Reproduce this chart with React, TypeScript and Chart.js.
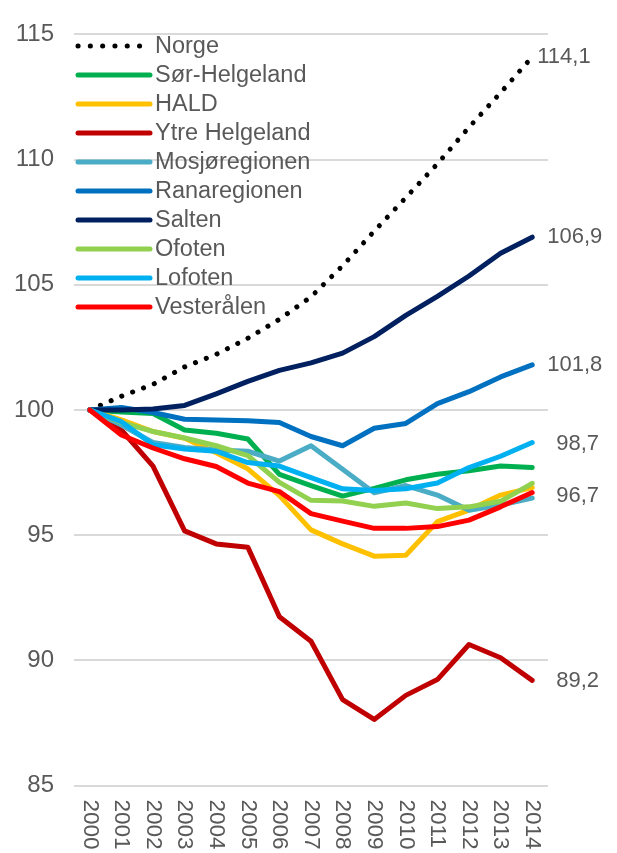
import React, { useEffect, useRef } from "react";
import { Chart, registerables } from "chart.js";

Chart.register(...registerables);

const years = ["2000","2001","2002","2003","2004","2005","2006","2007","2008","2009","2010","2011","2012","2013","2014"];

const norge = [100, 100.55, 101.02, 101.72, 102.22, 102.86, 103.62, 104.52, 105.76, 107.14, 108.48, 109.83, 111.29, 112.67, 114.1];
const sorHelgeland = [100, 99.92, 99.86, 99.2, 99.07, 98.84, 97.43, 96.98, 96.56, 96.87, 97.21, 97.43, 97.57, 97.76, 97.7];
const hald = [100, 99.6, 99.14, 98.87, 98.29, 97.65, 96.58, 95.21, 94.65, 94.16, 94.2, 95.54, 96.0, 96.6, 96.9];
const ytreHelgeland = [100, 99.2, 97.76, 95.17, 94.65, 94.52, 91.74, 90.76, 88.43, 87.64, 88.6, 89.23, 90.63, 90.1, 89.2];
const mosjoregionen = [100, 99.4, 98.7, 98.5, 98.4, 98.35, 97.96, 98.57, 97.63, 96.69, 96.98, 96.6, 95.99, 96.2, 96.48];
const ranaregionen = [100, 100.1, 99.9, 99.63, 99.6, 99.57, 99.5, 98.94, 98.57, 99.27, 99.46, 100.25, 100.73, 101.32, 101.8];
const salten = [100, 100.0, 100.04, 100.18, 100.64, 101.14, 101.58, 101.88, 102.27, 102.93, 103.78, 104.54, 105.35, 106.26, 106.9];
const ofoten = [100, 99.5, 99.14, 98.88, 98.57, 98.18, 97.11, 96.39, 96.36, 96.15, 96.28, 96.06, 96.13, 96.35, 97.07];
const lofoten = [100, 99.53, 98.61, 98.44, 98.35, 97.9, 97.76, 97.3, 96.85, 96.78, 96.85, 97.08, 97.7, 98.15, 98.7];
const vesteralen = [100, 99.0, 98.48, 98.05, 97.74, 97.08, 96.74, 95.86, 95.56, 95.27, 95.27, 95.34, 95.6, 96.13, 96.7];

const seriesNames = ["Norge","Sør-Helgeland","HALD","Ytre Helgeland","Mosjøregionen","Ranaregionen","Salten","Ofoten","Lofoten","Vesterålen"];
const seriesValues = [norge, sorHelgeland, hald, ytreHelgeland, mosjoregionen, ranaregionen, salten, ofoten, lofoten, vesteralen];
const seriesColors = ["#000000","#00B050","#FFC000","#C00000","#4BACC6","#0070C0","#002060","#92D050","#00B0F0","#FF0000"];
// series that carry an end label
const labelledSeries = ["Norge","Salten","Ranaregionen","Lofoten","Vesterålen","Ytre Helgeland"];

const FONT = "'Liberation Sans', Arial, sans-serif";
const TEXT = "#595959";

const endLabelOffsets: Record<string, [number, number]> = {
  "Norge": [5, 0],
  "Salten": [15, 0],
  "Ranaregionen": [15, 0],
  "Lofoten": [24, 1],
  "Vesterålen": [24, 3],
  "Ytre Helgeland": [24, 1],
};

const fmt = (v: number) => v.toFixed(1).replace(".", ",");

const overlayPlugin = {
  id: "overlay",
  afterDraw(chart: any) {
    const ctx = chart.ctx;
    const area = chart.chartArea;
    const xs = chart.scales.x;
    // x tick labels rotated clockwise
    ctx.save();
    ctx.fillStyle = TEXT;
    ctx.font = `22.5px ${FONT}`;
    years.forEach((y, i) => {
      const x = xs.getPixelForTick(i);
      ctx.save();
      ctx.translate(x, area.bottom + 14);
      ctx.rotate(Math.PI / 2);
      ctx.textAlign = "left";
      ctx.textBaseline = "middle";
      ctx.fillText(y, 0, 0);
      ctx.restore();
    });
    ctx.restore();

    // end labels
    ctx.save();
    ctx.fillStyle = TEXT;
    ctx.font = `22px ${FONT}`;
    ctx.textAlign = "left";
    ctx.textBaseline = "middle";
    chart.data.datasets.forEach((ds: any, di: number) => {
      if (!labelledSeries.includes(ds.label)) return;
      const meta = chart.getDatasetMeta(di);
      const pt = meta.data[meta.data.length - 1];
      const off = endLabelOffsets[ds.label] || [10, 0];
      ctx.fillText(fmt(ds.data[ds.data.length - 1]), pt.x + off[0], pt.y + off[1]);
    });
    ctx.restore();

    // legend
    ctx.save();
    const lx0 = 78, lx1 = 150, tx = 155, ty0 = 46, step = 29;
    chart.data.datasets.forEach((ds: any, i: number) => {
      const y = ty0 + i * step;
      ctx.save();
      ctx.strokeStyle = ds.borderColor;
      ctx.lineWidth = 5;
      ctx.lineCap = "round";
      const dotted = ds.borderDash && ds.borderDash.length;
      if (dotted) ctx.setLineDash([0.1, 12.2]);
      ctx.beginPath();
      ctx.moveTo(lx0, y);
      ctx.lineTo(dotted ? lx0 + 62 : lx1, y);
      ctx.stroke();
      ctx.restore();
      ctx.fillStyle = TEXT;
      ctx.font = `23.5px ${FONT}`;
      ctx.textAlign = "left";
      ctx.textBaseline = "middle";
      ctx.fillText(ds.label, tx, y + 1);
    });
    ctx.restore();
  },
};

export default function App() {
  const ref = useRef<HTMLCanvasElement>(null);
  useEffect(() => {
    if (!ref.current) return;
    const n = seriesNames.length;
    const chart = new Chart(ref.current, {
      type: "line",
      data: {
        labels: years,
        datasets: seriesNames.map((name, i) => ({
          label: name,
          data: seriesValues[i],
          borderColor: seriesColors[i],
          backgroundColor: seriesColors[i],
          borderWidth: 5,
          borderDash: name === "Norge" ? [0.1, 11.5] : [],
          borderCapStyle: "round",
          borderJoinStyle: "round",
          pointRadius: 0,
          tension: 0,
          fill: false,
          order: n - i,
        })),
      },
      options: {
        responsive: false,
        animation: false,
        devicePixelRatio: 1,
        layout: { padding: { top: 20, right: 69, left: 0, bottom: 0 } },
        plugins: { legend: { display: false }, tooltip: { enabled: false } },
        scales: {
          x: {
            type: "category",
            offset: true,
            grid: { display: false },
            border: { display: false },
            ticks: { display: false },
            afterFit: (s: any) => { s.height = 67.5; },
          },
          y: {
            min: 85,
            max: 115,
            ticks: { stepSize: 5, padding: 20, color: TEXT, font: { family: FONT, size: 24 } },
            grid: { color: "#d9d9d9", lineWidth: 2, drawTicks: false },
            border: { display: false },
            afterFit: (s: any) => { s.width = 74; },
          },
        },
      } as any,
      plugins: [overlayPlugin],
    });
    return () => chart.destroy();
  }, []);
  return (
    <div style={{ position: "fixed", left: 0, top: 0, width: 617, height: 853, background: "#fff" }}>
      <canvas ref={ref} width={617} height={853} style={{ display: "block", width: 617, height: 853 }} />
    </div>
  );
}
